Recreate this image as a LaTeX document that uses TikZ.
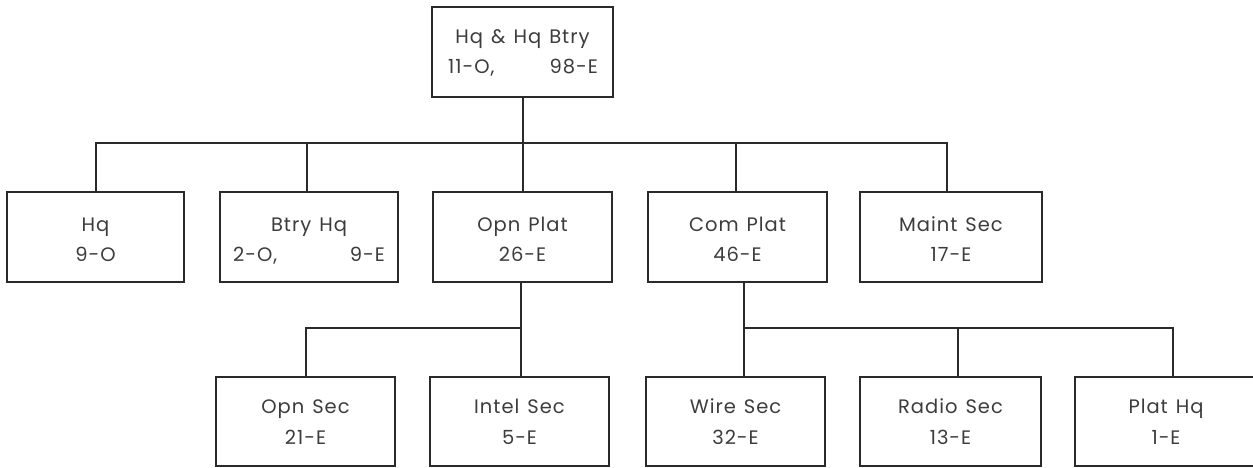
\documentclass[tikz,border=0pt]{standalone}
\usepackage{fontspec}
\setmainfont{Poppins}[LetterSpace=5,WordSpace=1.3]
\definecolor{ink}{HTML}{2A2A2A}
\definecolor{txt}{HTML}{3C3C3C}
\begin{document}
\begin{tikzpicture}[x=1pt,y=-1pt,
  box/.style={draw=ink,line width=2pt,minimum height=90pt,inner sep=0pt,outer sep=0pt},
  lbl/.style={text=txt,font=\fontsize{19.5}{22}\selectfont,inner sep=0pt,anchor=base},
  conn/.style={draw=ink,line width=2pt}]
\useasboundingbox (0,0) rectangle (1253,468);
% boxes
\node[box,minimum width=181pt] (top) at (522.5,52) {};
\node[box,minimum width=177pt] (hq) at (95.5,237) {};
\node[box,minimum width=178pt] (btry) at (309,237) {};
\node[box,minimum width=179pt] (opn) at (522.5,237) {};
\node[box,minimum width=179pt] (com) at (737.5,237) {};
\node[box,minimum width=182pt] (maint) at (951,237) {};
\node[box,minimum width=179pt,minimum height=89pt] (opnsec) at (305.5,421.5) {};
\node[box,minimum width=179pt,minimum height=89pt] (intel) at (519.5,421.5) {};
\node[box,minimum width=179pt,minimum height=89pt] (wire) at (735.5,421.5) {};
\node[box,minimum width=181pt,minimum height=89pt] (radio) at (950.5,421.5) {};
\node[box,minimum width=182pt,minimum height=89pt] (plathq) at (1166,421.5) {};
% labels
\node[lbl] (t1) at ([yshift=-37pt]top.north) {Hq \& Hq Btry};
\node[lbl,anchor=base west] (t2) at ([xshift=16pt,yshift=-67pt]top.north west) {11-O,};
\node[lbl,anchor=base east] (t3) at ([xshift=-15pt,yshift=-67pt]top.north east) {98-E};
\node[lbl] (hq1) at ([yshift=-39pt]hq.north) {Hq};
\node[lbl] (hq2) at ([yshift=-69pt]hq.north) {9-O};
\node[lbl] (b1) at ([yshift=-39pt]btry.north) {Btry Hq};
\node[lbl,anchor=base west] (b2) at ([xshift=13pt,yshift=-69pt]btry.north west) {2-O,};
\node[lbl,anchor=base east] (b3) at ([xshift=-13pt,yshift=-69pt]btry.north east) {9-E};
\node[lbl] (o1) at ([yshift=-39pt]opn.north) {Opn Plat};
\node[lbl] (o2) at ([yshift=-69pt]opn.north) {26-E};
\node[lbl] (c1) at ([yshift=-39pt]com.north) {Com Plat};
\node[lbl] (c2) at ([yshift=-69pt]com.north) {46-E};
\node[lbl] (m1) at ([yshift=-39pt]maint.north) {Maint Sec};
\node[lbl] (m2) at ([yshift=-69pt]maint.north) {17-E};
\node[lbl] (os1) at ([yshift=-36pt]opnsec.north) {Opn Sec};
\node[lbl] (os2) at ([yshift=-67pt]opnsec.north) {21-E};
\node[lbl] (i1) at ([yshift=-36pt]intel.north) {Intel Sec};
\node[lbl] (i2) at ([yshift=-67pt]intel.north) {5-E};
\node[lbl] (w1) at ([yshift=-36pt]wire.north) {Wire Sec};
\node[lbl] (w2) at ([yshift=-67pt]wire.north) {32-E};
\node[lbl] (r1) at ([yshift=-36pt]radio.north) {Radio Sec};
\node[lbl] (r2) at ([yshift=-67pt]radio.north) {13-E};
\node[lbl] (p1) at ([yshift=-36pt]plathq.north) {Plat Hq};
\node[lbl] (p2) at ([yshift=-67pt]plathq.north) {1-E};
% buses
\coordinate (busA) at (0,143);
\coordinate (busB) at (0,328);
\coordinate (jA) at (top.south |- busA);
\coordinate (jB) at ([xshift=-2pt]opn.south |- busB);
\coordinate (jC) at ([xshift=6pt]com.south |- busB);
\draw[conn] (top.south) -- (jA);
\draw[conn] (hq.north) |- ([xshift=-4pt]maint.north |- busA) -- ([xshift=-4pt]maint.north);
\draw[conn] ([xshift=-2pt]btry.north) -- ([xshift=-2pt]btry.north |- busA);
\draw[conn] (opn.north) -- (opn.north |- busA);
\draw[conn] ([xshift=-2pt]com.north) -- ([xshift=-2pt]com.north |- busA);
\draw[conn] ([xshift=-2pt]opn.south) -- ([xshift=-2pt]opn.south |- intel.north);
\draw[conn] (opnsec.north) |- (jB);
\draw[conn] ([xshift=6pt]com.south) -- ([xshift=8pt]wire.north);
\draw[conn] (jC) -| ([xshift=7pt]plathq.north);
\draw[conn] ([xshift=7.5pt]radio.north) -- ([xshift=7.5pt]radio.north |- busB);
\end{tikzpicture}
\end{document}
